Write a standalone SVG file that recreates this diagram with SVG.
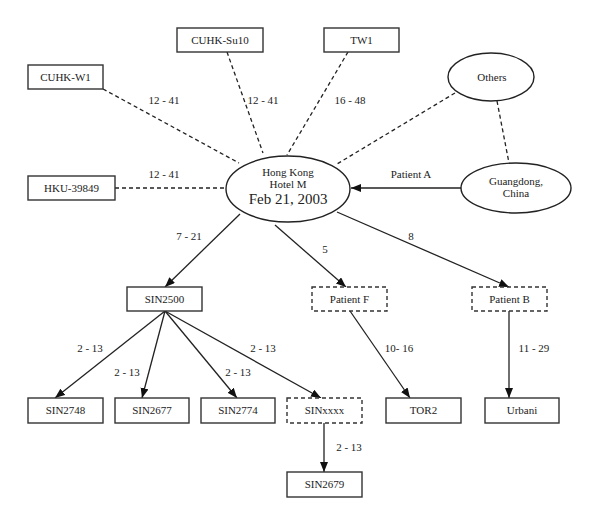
<svg xmlns="http://www.w3.org/2000/svg" width="600" height="522" viewBox="0 0 600 522">
<style>
  .box{fill:#fff;stroke:#333;stroke-width:1.4}
  .dbox{fill:#fff;stroke:#333;stroke-width:1.4;stroke-dasharray:4 3}
  .ell{fill:#fff;stroke:#222;stroke-width:1.4}
  .t{font-family:"Liberation Serif","Times New Roman",serif;font-size:11px;fill:#222;text-anchor:middle}
  .big{font-size:15px}
  .e{stroke:#222;stroke-width:1.3;fill:none}
  .d{stroke-dasharray:4 3}
</style>
<defs>
  <marker id="ah" markerUnits="userSpaceOnUse" markerWidth="12" markerHeight="10" refX="10" refY="4" orient="auto">
    <path d="M0,0 L10,4 L0,8 Z" fill="#111"/>
  </marker>
</defs>
<g id="connectors">
  <line class="e d" x1="103" y1="89" x2="239" y2="163"/>
  <line class="e d" x1="227" y1="52" x2="263" y2="153"/>
  <line class="e d" x1="348" y1="52" x2="287" y2="155"/>
  <line class="e d" x1="115" y1="188" x2="226" y2="188"/>
  <line class="e d" x1="455" y1="93" x2="337" y2="164"/>
  <line class="e d" x1="497" y1="101" x2="509" y2="163"/>
  <line class="e" x1="461" y1="188" x2="351" y2="188" marker-end="url(#ah)"/>
  <line class="e" x1="240" y1="214" x2="165" y2="287" marker-end="url(#ah)"/>
  <line class="e" x1="275" y1="225" x2="346" y2="287" marker-end="url(#ah)"/>
  <line class="e" x1="337" y1="212" x2="509" y2="287" marker-end="url(#ah)"/>
  <line class="e" x1="165" y1="311" x2="55" y2="398" marker-end="url(#ah)"/>
  <line class="e" x1="165" y1="311" x2="142" y2="398" marker-end="url(#ah)"/>
  <line class="e" x1="165" y1="311" x2="237" y2="398" marker-end="url(#ah)"/>
  <line class="e" x1="165" y1="311" x2="321" y2="398" marker-end="url(#ah)"/>
  <line class="e" x1="350" y1="311" x2="410" y2="398" marker-end="url(#ah)"/>
  <line class="e" x1="509" y1="311" x2="509" y2="398" marker-end="url(#ah)"/>
  <line class="e" x1="324" y1="423" x2="324" y2="472" marker-end="url(#ah)"/>
  <text class="t" x="164" y="104">12 - 41</text>
  <text class="t" x="263" y="104">12 - 41</text>
  <text class="t" x="350" y="104">16 - 48</text>
  <text class="t" x="164" y="178">12 - 41</text>
  <text class="t" x="411" y="178">Patient A</text>
  <text class="t" x="189" y="240">7 - 21</text>
  <text class="t" x="325" y="253">5</text>
  <text class="t" x="411" y="240">8</text>
  <text class="t" x="90" y="352">2 - 13</text>
  <text class="t" x="127" y="376">2 - 13</text>
  <text class="t" x="238" y="376">2 - 13</text>
  <text class="t" x="263" y="352">2 - 13</text>
  <text class="t" x="399" y="352">10- 16</text>
  <text class="t" x="534" y="352">11 - 29</text>
  <text class="t" x="349" y="451">2 - 13</text>
</g>
<g id="cuhk-su10"><rect class="box" x="177" y="28" width="86" height="24"/><text class="t" x="220" y="44">CUHK-Su10</text></g>
<g id="tw1"><rect class="box" x="324" y="28" width="75" height="24"/><text class="t" x="361.5" y="44">TW1</text></g>
<g id="cuhk-w1"><rect class="box" x="28" y="65" width="75" height="24"/><text class="t" x="65.5" y="81">CUHK-W1</text></g>
<g id="hku-39849"><rect class="box" x="28" y="176" width="87" height="24"/><text class="t" x="71.5" y="192">HKU-39849</text></g>
<g id="others"><ellipse class="ell" cx="491" cy="77" rx="43" ry="24"/><text class="t" x="492" y="81">Others</text></g>
<g id="guangdong"><ellipse class="ell" cx="516" cy="188" rx="55" ry="25"/><text class="t" x="516" y="185">Guangdong,</text><text class="t" x="516" y="197">China</text></g>
<g id="hotel-m"><ellipse class="ell" cx="288" cy="189" rx="62" ry="33"/><text class="t" x="288" y="176">Hong Kong</text><text class="t" x="288" y="188">Hotel M</text><text class="t big" x="288" y="204">Feb 21, 2003</text></g>
<g id="sin2500"><rect class="box" x="127" y="287" width="75" height="24"/><text class="t" x="164.5" y="303">SIN2500</text></g>
<g id="patient-f"><rect class="dbox" x="312" y="287" width="75" height="24"/><text class="t" x="349.5" y="303">Patient F</text></g>
<g id="patient-b"><rect class="dbox" x="472" y="287" width="75" height="24"/><text class="t" x="509.5" y="303">Patient B</text></g>
<g id="sin2748"><rect class="box" x="28" y="398" width="75" height="25"/><text class="t" x="65.5" y="414">SIN2748</text></g>
<g id="sin2677"><rect class="box" x="115" y="398" width="74" height="25"/><text class="t" x="152" y="414">SIN2677</text></g>
<g id="sin2774"><rect class="box" x="201" y="398" width="74" height="25"/><text class="t" x="238" y="414">SIN2774</text></g>
<g id="sinxxxx"><rect class="dbox" x="287" y="398" width="75" height="25"/><text class="t" x="324.5" y="414">SINxxxx</text></g>
<g id="tor2"><rect class="box" x="386" y="398" width="75" height="25"/><text class="t" x="423.5" y="414">TOR2</text></g>
<g id="urbani"><rect class="box" x="485" y="398" width="74" height="25"/><text class="t" x="522" y="414">Urbani</text></g>
<g id="sin2679"><rect class="box" x="287" y="472" width="75" height="25"/><text class="t" x="324.5" y="488">SIN2679</text></g>
</svg>
